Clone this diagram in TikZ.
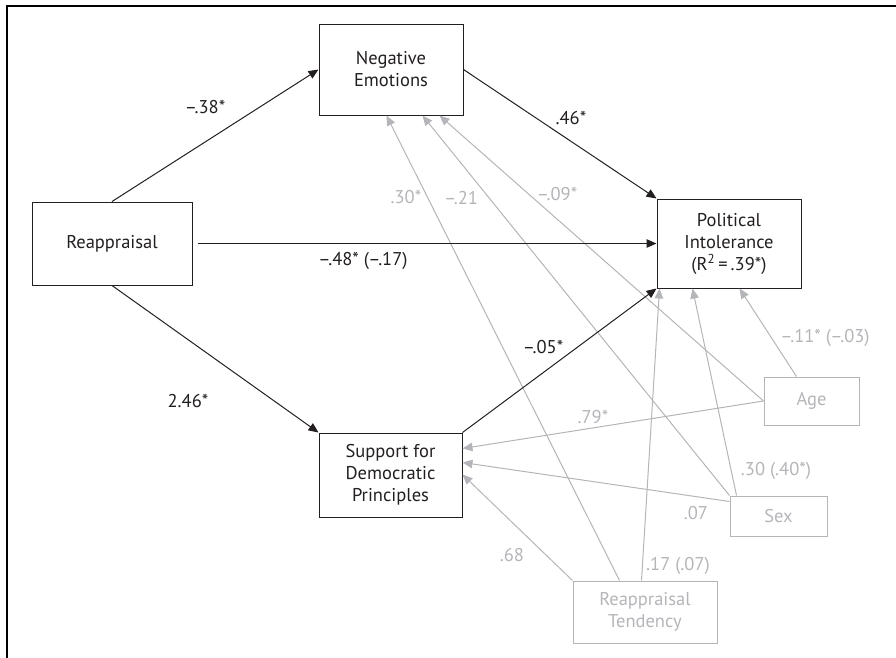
\documentclass[tikz,border=0pt]{standalone}
\usepackage{fontspec}
\setmainfont{PT Sans}
\usetikzlibrary{arrows.meta}
\definecolor{lg}{RGB}{180,181,185}
\definecolor{tk}{RGB}{35,31,32}
\begin{document}
\begin{tikzpicture}[x=1pt,y=-1pt,
  font=\fontsize{18.5}{22}\selectfont,
  bbox/.style={draw=tk,line width=1pt,rectangle,align=center,inner sep=0pt,text=tk},
  gbox/.style={draw=lg,line width=1pt,rectangle,align=center,inner sep=0pt,text=lg},
  barr/.style={draw=tk,line width=1pt,-{Triangle[length=10pt,width=8.5pt]}},
  garr/.style={draw=lg,line width=1pt,-{Triangle[length=10pt,width=8.5pt]}},
  blab/.style={text=tk,inner sep=0pt},
  glab/.style={text=lg,inner sep=0pt}]
\useasboundingbox (0,0) rectangle (896,657);
\draw[line width=2pt] (7,700) -- (7,6) -- (950,6);
% main boxes
\node[bbox,minimum width=160,minimum height=83] (rea) at (112,243.5) {Reappraisal};
\node[bbox,minimum width=144,minimum height=91] (neg) at (391,69.5) {Negative\\Emotions};
\node[bbox,minimum width=144,minimum height=89] (pol) at (729,243.5) {Political\\Intolerance\\(R\textsuperscript{2}\,=\,.39*)};
\node[bbox,minimum width=143,minimum height=84] (sup) at (390.5,475) {Support for\\Democratic\\Principles};
% covariate boxes
\node[gbox,minimum width=95,minimum height=48] (age) at (811.5,401) {Age};
\node[gbox,minimum width=97,minimum height=40] (sex) at (778.5,516) {Sex};
\node[gbox,minimum width=144,minimum height=62] (rt) at (645,612) {Reappraisal\\Tendency};
% gray connectors
\draw[garr] ([xshift=47]rt.north west) -- ([xshift=68]neg.south west);
\draw[garr] (sex.north west) -- ([xshift=104]neg.south west);
\draw[garr] (age.west) -- ([xshift=121]neg.south west);
\draw[garr] ([xshift=69]rt.north west) -- ([xshift=3]pol.south west);
\draw[garr] ([xshift=7]sex.north west) -- ([xshift=36]pol.south west);
\draw[garr] ([xshift=33]age.north west) -- ([xshift=83]pol.south west);
\draw[garr] (age.west) -- ([yshift=-16]sup.north east);
\draw[garr] ([yshift=-6]sex.north west) -- ([yshift=-30]sup.north east);
\draw[garr] (rt.north west) -- ([yshift=-42]sup.north east);
% black connectors
\draw[barr] (rea.north) -- (neg.west);
\draw[barr] (neg.east) -- (pol.north west);
\draw[barr,shorten <=5pt] (rea.east) -- (pol.west);
\draw[barr] (rea.south) -- (sup.north west);
\draw[barr] (sup.north east) -- (pol.south west);
% black labels
\node[blab] (l1) at (205,107) {–.38*};
\node[blab] (l2) at (571,118) {.46*};
\node[blab] (l3) at (363,261) {–.48* (–.17)};
\node[blab] (l4) at (543,347) {–.05*};
\node[blab] (l5) at (188,401) {2.46*};
% gray labels
\node[glab] (g1) at (406,197) {.30*};
\node[glab] (g2) at (461,198) {–.21};
\node[glab] (g3) at (557,194) {–.09*};
\node[glab] (g4) at (825,338) {–.11* (–.03)};
\node[glab] (g5) at (593,417) {.79*};
\node[glab] (g6) at (776,471) {.30 (.40*)};
\node[glab] (g7) at (696,513) {.07};
\node[glab] (g8) at (512,555) {.68};
\node[glab] (g9) at (678,566) {.17 (.07)};
\end{tikzpicture}
\end{document}
